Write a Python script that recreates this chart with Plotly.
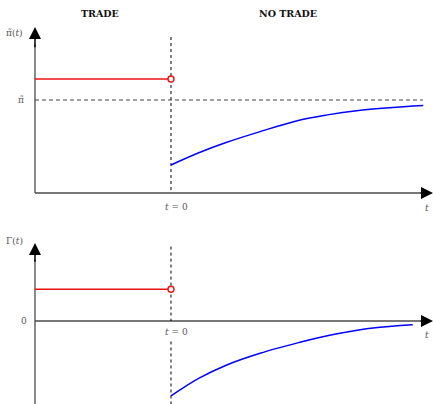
import plotly.graph_objects as go

W, H = 433, 404

# ---- data ----
t_trade = [-4.0, 0.0]
pi_trade = [1.226, 1.226]
gamma_trade = [0.341, 0.341]
pi_bar = 1.0
pi_bar_t = [-4.0, 7.41]

t_nt_top = [0.0, 0.8, 1.64, 2.62, 3.74, 4.6, 5.46, 6.44, 7.42]
pi_nt = [0.301, 0.43, 0.545, 0.66, 0.78, 0.84, 0.885, 0.917, 0.94]

t_nt_bot = [0.0, 0.8, 1.64, 2.62, 3.79, 4.4, 4.97, 5.94, 7.11]
gamma_nt = [-0.806, -0.62, -0.473, -0.347, -0.229, -0.175, -0.132, -0.075, -0.040]

titles = ["TRADE", "NO TRADE"]

# ---- geometry ----
XR = [-5.029, 7.706]
Y1 = [-0.2366, 2.0753]
Y2 = [-0.8925, 1.0323]
AX_GRAY = "#4a4a4a"
TXT = "#555555"
FONT = "DejaVu Serif"

fig = go.Figure()

def line(x, y, xa, ya, color, width, dash=None, shape="linear"):
    fig.add_trace(go.Scatter(x=x, y=y, xaxis=xa, yaxis=ya, mode="lines",
                             line=dict(color=color, width=width, dash=dash, shape=shape, smoothing=1.0),
                             hoverinfo="skip", showlegend=False))

# axes lines
line([-4, 7.5], [0, 0], "x", "y", AX_GRAY, 1.3)
line([-4, -4], [0, 1.6], "x", "y", AX_GRAY, 1.3)
line([-4, 7.5], [0, 0], "x2", "y2", AX_GRAY, 1.3)
line([-4, -4], [Y2[0], 0.66], "x2", "y2", AX_GRAY, 1.3)

# vertical dashed t=0
line([0, 0], [1.677, 0], "x", "y", "#000", 1, dash="3px,3px")
line([0, 0], [0.80, 0], "x2", "y2", "#000", 1, dash="3px,3px")
line([0, 0], [-0.22, Y2[0]], "x2", "y2", "#000", 1, dash="3px,3px")

# pi bar dotted
line(pi_bar_t, [pi_bar, pi_bar], "x", "y", "#444", 1.2, dash="4px,3px")

# trade segments
line(t_trade, pi_trade, "x", "y", "#ee1111", 1.5)
line(t_trade, gamma_trade, "x2", "y2", "#ee1111", 1.5)

# no-trade curves
line(t_nt_top, pi_nt, "x", "y", "#0000ff", 1.5, shape="spline")
line(t_nt_bot, gamma_nt, "x2", "y2", "#0000ff", 1.5, shape="spline")

# open circles
for xa, ya, yv in [("x", "y", pi_trade[-1]), ("x2", "y2", gamma_trade[-1])]:
    fig.add_trace(go.Scatter(x=[t_trade[-1]], y=[yv], xaxis=xa, yaxis=ya, mode="markers",
                             marker=dict(symbol="circle", size=6, color="white",
                                         line=dict(color="#ee1111", width=1.4)),
                             hoverinfo="skip", showlegend=False))

ann = []
# arrow heads
def head(xref, yref, x, y, ax, ay):
    ann.append(dict(xref=xref, yref=yref, axref=xref, ayref=yref, x=x, y=y, ax=ax, ay=ay,
                    showarrow=True, arrowhead=2, arrowsize=1.6, arrowwidth=1.5,
                    arrowcolor="black", text="", standoff=0))
head("x", "y", 7.706, 0, 7.3, 0)
head("x", "y", -4, 1.785, -4, 1.55)
head("x2", "y2", 7.706, 0, 7.3, 0)
head("x2", "y2", -4, 0.839, -4, 0.62)

def txt(px, py, s, size=9, color=TXT):
    ann.append(dict(xref="paper", yref="paper", x=px / W, y=1 - py / H, text=s,
                    showarrow=False, xanchor="center", yanchor="middle",
                    font=dict(family=FONT, size=size, color=color)))

txt(100, 13, "<b>" + titles[0] + "</b>", size=9.5, color="#111")
txt(288, 13, "<b>" + titles[1] + "</b>", size=9.5, color="#111")
txt(15, 33, "π̃(<i>t</i>)")
txt(21, 100, "π̃")
txt(176, 207, "<i>t</i> = 0")
txt(427, 208, "<i>t</i>")
txt(15, 241, "Γ(<i>t</i>)")
txt(24, 321, "0")
txt(176, 332, "<i>t</i> = 0")
txt(427, 335, "<i>t</i>")

ax_common = dict(visible=False, showgrid=False, zeroline=False, fixedrange=True)
fig.update_layout(
    width=W, height=H, margin=dict(l=0, r=0, t=0, b=0),
    paper_bgcolor="white", plot_bgcolor="white",
    xaxis=dict(domain=[0, 1], range=XR, anchor="y", **ax_common),
    yaxis=dict(domain=[1 - 215 / H, 1], range=Y1, anchor="x", **ax_common),
    xaxis2=dict(domain=[0, 1], range=XR, anchor="y2", **ax_common),
    yaxis2=dict(domain=[0, 1 - 225 / H], range=Y2, anchor="x2", **ax_common),
    annotations=ann,
    showlegend=False,
)

fig.write_html("out.html", config={"displayModeBar": False},
               post_script="document.body.style.margin='0';document.body.style.overflow='hidden';")
